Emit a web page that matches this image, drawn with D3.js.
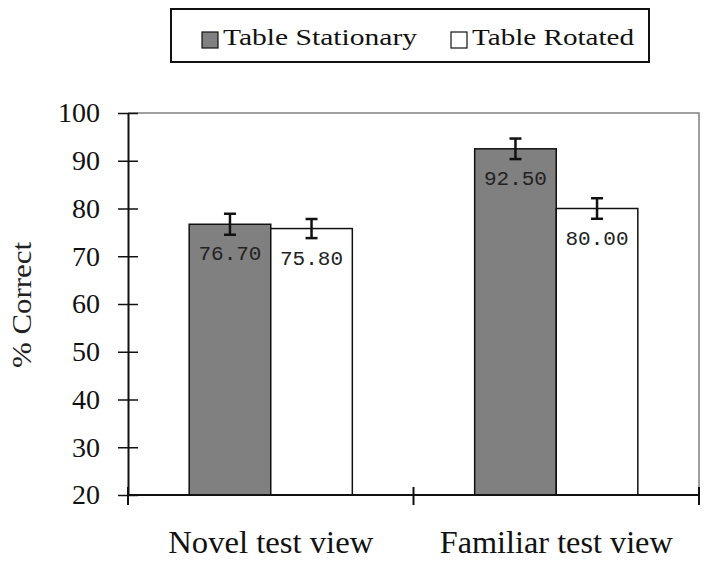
<!DOCTYPE html>
<html>
<head>
<meta charset="utf-8">
<script src="https://cdn.jsdelivr.net/npm/d3@7"></script>
<style>
  body { margin: 0; background: #fff; }
  svg { display: block; }
</style>
</head>
<body>
<svg width="709" height="563"></svg>
<script>
// chart data
const categories = ["Novel test view", "Familiar test view"];
const seriesNames = ["Table Stationary", "Table Rotated"];
const stationary = [76.7, 92.5];
const rotated = [75.8, 80.0];
const stationaryErr = [2.2, 2.15];
const rotatedErr = [2.0, 2.15];
const yTicks = [20, 30, 40, 50, 60, 70, 80, 90, 100];

const colors = ["#808080", "#ffffff"];

const svg = d3.select("svg"),
    margin = { top: 113, right: 10, bottom: 68, left: 128 },
    width = +svg.attr("width") - margin.left - margin.right,
    height = +svg.attr("height") - margin.top - margin.bottom,
    g = svg.append("g").attr("transform", `translate(${margin.left},${margin.top})`);

const rows = [];
categories.forEach((c, i) => {
    rows.push({ cat: c, s: 0, value: stationary[i], err: stationaryErr[i] });
    rows.push({ cat: c, s: 1, value: rotated[i], err: rotatedErr[i] });
});

const x0 = d3.scaleBand().domain(categories).range([0, width]).paddingInner(0).paddingOuter(0);
// Excel-like 150% gap width: two bars + 1.5 bar of gap per category
const barW = x0.bandwidth() / 3.5;
const x1 = d3.scaleBand().domain([0, 1]).range([barW * 0.75, barW * 2.75]);
const y = d3.scaleLinear().domain([20, 100]).range([height, 0]);

// plot area border (top and right)
g.append("path")
    .attr("d", `M0,0H${width}V${height}`)
    .attr("fill", "none")
    .attr("stroke", "#808080")
    .attr("stroke-width", 1.5);

// bars
g.selectAll(".bar")
    .data(rows)
    .enter().append("rect")
    .attr("class", "bar")
    .attr("x", d => x0(d.cat) + x1(d.s))
    .attr("y", d => y(d.value))
    .attr("width", x1.bandwidth())
    .attr("height", d => height - y(d.value))
    .attr("fill", d => colors[d.s])
    .attr("stroke", "#111")
    .attr("stroke-width", 1.5);

// value labels
g.selectAll(".val")
    .data(rows)
    .enter().append("text")
    .attr("class", "val")
    .attr("x", d => x0(d.cat) + x1(d.s) + x1.bandwidth() / 2)
    .attr("y", d => y(d.value) + 36)
    .attr("text-anchor", "middle")
    .attr("font-family", "Liberation Mono, DejaVu Sans Mono, monospace")
    .attr("font-size", 21)
    .attr("fill", "#222")
    .text(d => d.value.toFixed(2));

// error bars
const eb = g.selectAll(".err")
    .data(rows)
    .enter().append("g")
    .attr("class", "err")
    .attr("stroke", "#111")
    .attr("stroke-width", 2.5);
const cx = d => x0(d.cat) + x1(d.s) + x1.bandwidth() / 2;
eb.append("line")
    .attr("x1", cx).attr("x2", cx)
    .attr("y1", d => y(d.value + d.err)).attr("y2", d => y(d.value - d.err));
eb.append("line")
    .attr("x1", d => cx(d) - 6).attr("x2", d => cx(d) + 6)
    .attr("y1", d => y(d.value + d.err)).attr("y2", d => y(d.value + d.err));
eb.append("line")
    .attr("x1", d => cx(d) - 6).attr("x2", d => cx(d) + 6)
    .attr("y1", d => y(d.value - d.err)).attr("y2", d => y(d.value - d.err));

// y axis with crossing ticks
const yAxis = g.append("g")
    .call(d3.axisLeft(y).tickValues(yTicks).tickSize(10).tickSizeOuter(0).tickPadding(18));
yAxis.select(".domain").attr("stroke", "#111").attr("stroke-width", 2);
yAxis.selectAll(".tick line").attr("x2", 10).attr("x1", -10).attr("stroke", "#111").attr("stroke-width", 1.5);
yAxis.selectAll(".tick text")
    .attr("x", -28)
    .attr("font-family", "Liberation Serif, Times New Roman, serif")
    .attr("font-size", 28)
    .attr("fill", "#111");

// x axis
const xAxis = g.append("g")
    .attr("transform", `translate(0,${height})`);
xAxis.append("line")
    .attr("x1", 0).attr("x2", width)
    .attr("stroke", "#111").attr("stroke-width", 2);
const xTickPos = [0, x0.bandwidth(), width];
xAxis.selectAll(".xtick")
    .data(xTickPos)
    .enter().append("line")
    .attr("x1", d => d).attr("x2", d => d)
    .attr("y1", -8).attr("y2", 10)
    .attr("stroke", "#111").attr("stroke-width", 2);
const xLabelW = [205, 233];
xAxis.selectAll(".xlab")
    .data(categories)
    .enter().append("text")
    .attr("x", d => x0(d) + x0.bandwidth() / 2)
    .attr("y", 58)
    .attr("text-anchor", "middle")
    .attr("font-family", "Liberation Serif, Times New Roman, serif")
    .attr("font-size", 31)
    .attr("fill", "#111")
    .attr("textLength", (d, i) => xLabelW[i])
    .attr("lengthAdjust", "spacingAndGlyphs")
    .text(d => d);

// y axis title
svg.append("text")
    .attr("transform", "translate(31,305) rotate(-90)")
    .attr("text-anchor", "middle")
    .attr("font-family", "Liberation Serif, Times New Roman, serif")
    .attr("font-size", 28)
    .attr("fill", "#222")
    .attr("textLength", 126)
    .attr("lengthAdjust", "spacingAndGlyphs")
    .text("% Correct");

// legend
const legend = svg.append("g");
legend.append("rect")
    .attr("x", 171).attr("y", 9)
    .attr("width", 478).attr("height", 53)
    .attr("fill", "#fff")
    .attr("stroke", "#111").attr("stroke-width", 2);
const legX = [202, 451];
const legW = [194, 162];
const items = legend.selectAll(".li")
    .data(seriesNames)
    .enter().append("g")
    .attr("transform", (d, i) => `translate(${legX[i]},0)`);
items.append("rect")
    .attr("x", 0).attr("y", 32)
    .attr("width", 16).attr("height", 16)
    .attr("fill", (d, i) => colors[i])
    .attr("stroke", "#111").attr("stroke-width", 1.2);
items.append("text")
    .attr("x", 21).attr("y", 45)
    .attr("font-family", "Liberation Serif, Times New Roman, serif")
    .attr("font-size", 23)
    .attr("fill", "#111")
    .attr("textLength", (d, i) => legW[i])
    .attr("lengthAdjust", "spacingAndGlyphs")
    .text(d => d);
</script>
</body>
</html>
